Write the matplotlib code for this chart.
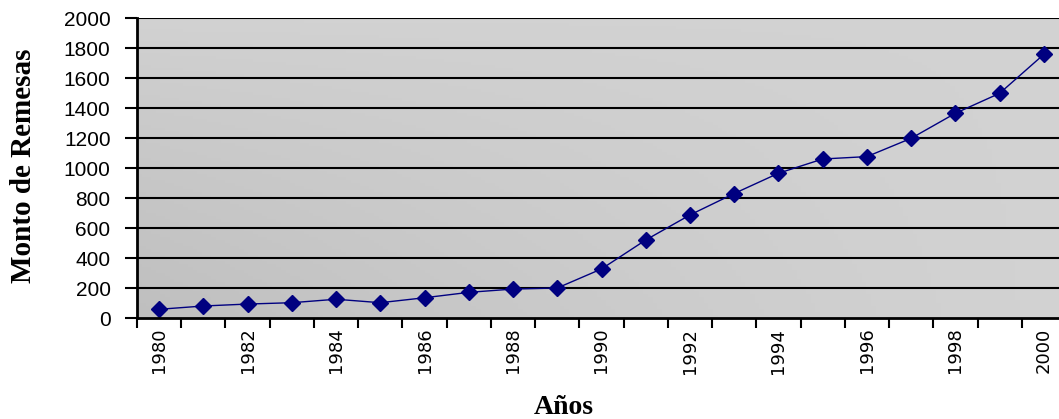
import numpy as np
import matplotlib
matplotlib.use("Agg")
import matplotlib.pyplot as plt

# ---------------- data ----------------
years = list(range(1980, 2001))
remesas = [58, 80, 93, 102, 125, 102, 135, 171, 193, 200,
           327, 520, 687, 830, 965, 1060, 1076, 1198, 1365, 1498, 1758]
yticks = list(range(0, 2001, 200))
xtick_labels = [str(y) for y in years if y % 2 == 0]
# --------------------------------------

fig = plt.figure(figsize=(10.59, 4.19), dpi=100)
ax = fig.add_axes([137 / 1059, 101 / 419, 929 / 1059, 300 / 419])

# gray gradient background (darker toward bottom-left)
gx, gy = np.meshgrid(np.linspace(0, 1, 200), np.linspace(0, 1, 100))
shade = 0.825 - 0.075 * (1 - gx) ** 1.3 * (1 - gy) ** 0.8
ax.imshow(np.dstack([shade, shade, shade]), extent=[0, 1, 0, 1],
          transform=ax.transAxes, aspect="auto", zorder=0, origin="lower")

x = np.arange(len(years))
ax.plot(x, remesas, color="#000080", lw=1.0, marker="D", ms=8,
        mfc="#000080", mec="#000080", zorder=3)

ax.set_xlim(-0.5, len(years) - 0.5)
ax.set_ylim(0, 2000)
ax.set_yticks(yticks)
ax.set_yticklabels([str(v) for v in yticks], fontsize=15,
                   family="Liberation Sans")
for v in yticks[1:]:
    ax.axhline(v, color="black", lw=1.5, zorder=1)

# ticks at category boundaries, labels at every second category centre
ax.set_xticks(np.arange(-0.5, len(years), 1.0))
ax.set_xticklabels([])
ax.set_xticks([i for i, y in enumerate(years) if y % 2 == 0], minor=True)
ax.set_xticklabels(xtick_labels, minor=True, rotation=90, fontsize=13,
                   family="DejaVu Sans")
ax.tick_params(axis="x", which="minor", length=0, pad=7)
ax.tick_params(axis="x", which="major", length=7, width=1.5, direction="out")
ax.tick_params(axis="y", length=9, width=1.5, direction="out", pad=10)

for s in ["top", "right"]:
    ax.spines[s].set_visible(False)
for s in ["left", "bottom"]:
    ax.spines[s].set_linewidth(2)
    ax.spines[s].set_zorder(4)

fig.text(24 / 1059, 1 - 166 / 419, "Monto de Remesas", fontsize=21,
         fontweight="bold", family="Liberation Serif", rotation=90,
         ha="center", va="center")
fig.text(564 / 1059, 1 - 407 / 419, "Años", fontsize=20, fontweight="bold",
         family="Liberation Serif", ha="center", va="center")

fig.savefig("out.png", dpi=100)
